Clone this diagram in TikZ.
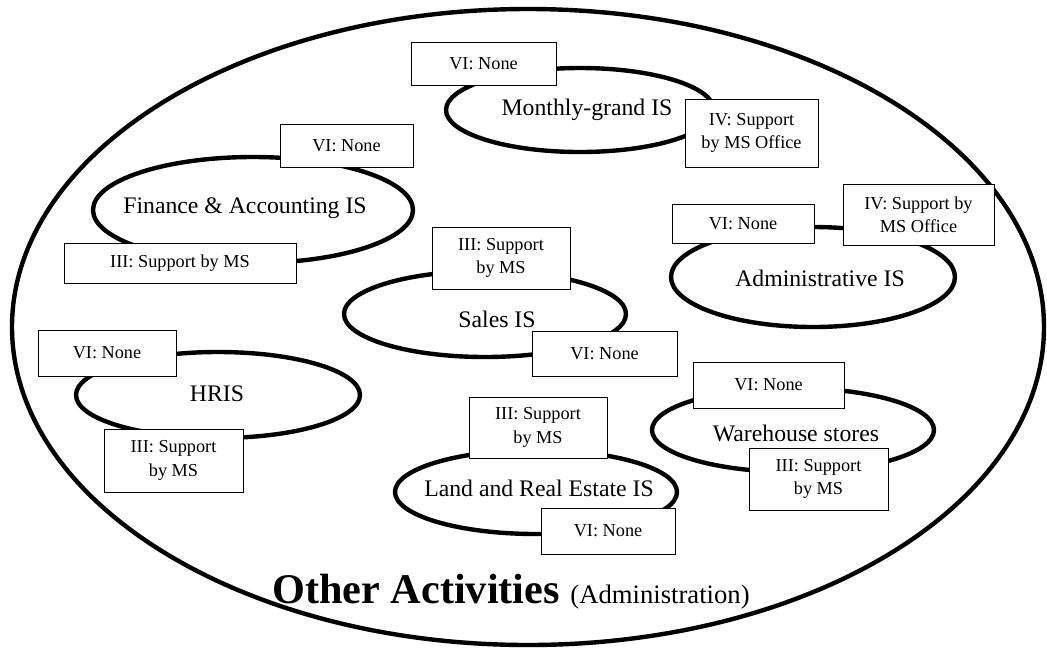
\documentclass[tikz,border=0pt]{standalone}
\usepackage{fontspec}
\setmainfont{Liberation Serif}
\usetikzlibrary{shapes.geometric}

% area ellipse: name, centre x, centre y, radius x, radius y
\newcommand\isarea[5]{%
  \node[area, minimum width={#4*1.5pt}, minimum height={#5*1.5pt}] (#1) at (#2,#3) {};}
% tag box: name, x1, y1, x2, y2, text
\newcommand\tagbox[6]{%
  \node[tagstyle, minimum width={(#4-#2)*0.75pt}, minimum height={(#5-#3)*0.75pt}]
    (#1) at ({(#2+#4)/2},{(#3+#5)/2}) {#6};}

\begin{document}
\begin{tikzpicture}[x=0.75pt, y=-0.75pt,
  area/.style={draw, line width=3.3pt, ellipse, inner sep=0pt, outer sep=0pt},
  arealabel/.style={inner sep=0pt, font=\fontsize{17.8}{21}\selectfont},
  tagstyle/.style={draw, line width=0.75pt, fill=white, inner sep=0pt, outer sep=0pt,
                   align=center, font=\fontsize{13.7}{17.5}\selectfont}]
\useasboundingbox (0,0) rectangle (1047,651);

% organisation boundary
\isarea{org}{528}{327}{516}{318}

% information systems
\isarea{monthly}{580}{110}{134}{42}
\isarea{finance}{253}{210}{160}{53}
\isarea{admin}{813}{277}{142}{50}
\isarea{sales}{485}{314}{141}{43}
\isarea{hris}{218}{395}{142}{43}
\isarea{land}{536}{492}{141}{42}
\isarea{ware}{793}{430}{141}{42}

\node[arealabel] (monthlyT) at (587,110) {Monthly-grand IS};
\node[arealabel] (financeT) at (245,208) {Finance \& Accounting IS};
\node[arealabel] (adminT)   at (820,278) {Administrative IS};
\node[arealabel] (salesT)   at (497,319) {Sales IS};
\node[arealabel] (hrisT)    at (217,394) {HRIS};
\node[arealabel] (landT)    at (539,488) {Land and Real Estate IS};
\node[arealabel] (wareT)    at (796,433) {Warehouse stores};

% support level tags
\tagbox{mVI}{411}{42}{556}{85}{VI: None}
\tagbox{mIV}{685}{99}{818}{167}{IV: Support\\by MS Office}
\tagbox{fVI}{280}{124}{413}{167}{VI: None}
\tagbox{fIII}{64}{243}{296}{283}{III: Support by MS}
\tagbox{aVI}{672}{204}{814}{243}{VI: None}
\tagbox{aIV}{843}{184}{994}{245}{IV: Support by\\MS Office}
\tagbox{sIII}{432}{227}{570}{289}{III: Support\\by MS}
\tagbox{sVI}{532}{331}{677}{376}{VI: None}
\tagbox{hVI}{38}{330}{176}{376}{VI: None}
\tagbox{hIII}{104}{429}{243}{492}{III: Support\\by MS}
\tagbox{lIII}{469}{397}{607}{458}{III: Support\\by MS}
\tagbox{lVI}{541}{508}{675}{554}{VI: None}
\tagbox{wVI}{693}{362}{844}{408}{VI: None}
\tagbox{wIII}{749}{448}{888}{510}{III: Support\\by MS}

% title
\node[anchor=base west, inner sep=0pt] (title) at (272,603)
  {\fontsize{31.7}{36}\selectfont\bfseries Other Activities \fontsize{20}{24}\selectfont\mdseries (Administration)};
\end{tikzpicture}
\end{document}
